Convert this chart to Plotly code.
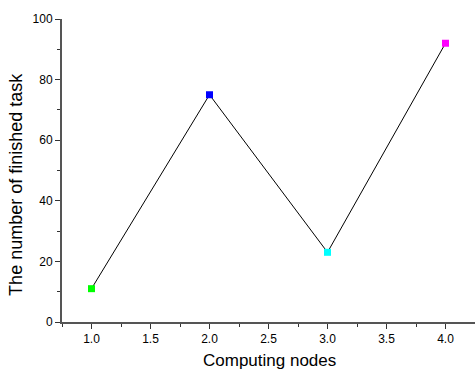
import plotly.graph_objects as go

nodes = [1.0, 2.0, 3.0, 4.0]
finished = [11, 75, 23, 92]
marker_colors = ["#00ff00", "#0000ff", "#00ffff", "#ff00ff"]
x_ticks = [1.0, 1.5, 2.0, 2.5, 3.0, 3.5, 4.0]
y_ticks = [0, 20, 40, 60, 80, 100]
x_title = "Computing nodes"
y_title = "The number of finished task"

fig = go.Figure()
fig.add_trace(go.Scatter(
    x=nodes, y=finished, mode="lines+markers",
    line=dict(color="black", width=1),
    marker=dict(symbol="square", size=7, color=marker_colors, line=dict(width=0)),
    cliponaxis=False, showlegend=False,
))

font = "Liberation Sans, Arial, sans-serif"
fig.update_layout(
    width=475, height=371,
    margin=dict(l=62, r=0, t=19, b=49),
    plot_bgcolor="white", paper_bgcolor="white",
    font=dict(family=font, color="black"),
)
fig.update_xaxes(
    range=[0.75, 4.25], tickvals=x_ticks, ticktext=[f"{v:.1f}" for v in x_ticks],
    showline=True, linecolor="#555555", linewidth=2, showgrid=False, zeroline=False,
    ticks="outside", ticklen=5, tickwidth=1, tickcolor="#333333",
    minor=dict(ticks="outside", ticklen=3, tickwidth=1, tickcolor="#333333", dtick=0.25, tick0=0.75, showgrid=False),
    tickfont=dict(size=12), automargin=False,
)
fig.update_yaxes(
    range=[0, 100], tickvals=y_ticks,
    showline=True, linecolor="#555555", linewidth=2, showgrid=False, zeroline=False,
    ticks="outside", ticklen=5, tickwidth=1, tickcolor="#333333",
    minor=dict(ticks="outside", ticklen=3, tickwidth=1, tickcolor="#333333", dtick=10, tick0=0, showgrid=False),
    tickfont=dict(size=12), automargin=False,
)
fig.add_annotation(text=x_title, xref="paper", yref="paper", x=0.503, y=-0.128,
                   xanchor="center", yanchor="middle", showarrow=False, font=dict(size=17))
fig.add_annotation(text=y_title, xref="paper", yref="paper", x=-0.112, y=0.455,
                   xanchor="center", yanchor="middle", textangle=-90, showarrow=False, font=dict(size=18))
fig.write_html("out.html", config={"displayModeBar": False},
               post_script="document.body.style.margin='0';document.body.style.overflow='hidden';")
